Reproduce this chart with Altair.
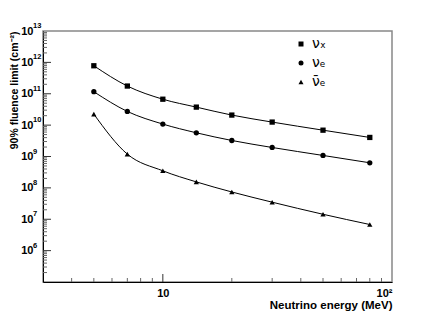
import altair as alt
import pandas as pd

energy = [5, 7, 10, 14, 20, 30, 50, 80]
nux = [7.8e11, 1.76e11, 6.7e10, 3.75e10, 2.09e10, 1.25e10, 6.9e9, 4.05e9]
nue = [1.16e11, 2.73e10, 1.08e10, 5.7e9, 3.24e9, 1.94e9, 1.08e9, 6.3e8]
nuebar = [2.24e10, 1.19e9, 3.5e8, 1.55e8, 7.4e7, 3.5e7, 1.44e7, 6.8e6]
series_names = ["νₓ", "νₑ", "ν̄ₑ"]
series_shapes = ["square", "circle", "triangle-up"]

y_tick_values = [1e6, 1e7, 1e8, 1e9, 1e10, 1e11, 1e12, 1e13]
y_tick_exponents = ["6", "7", "8", "9", "10", "11", "12", "13"]
x_tick_values = [10, 100]
x_tick_labels = ["10", "10²"]

y_major = [1e6, 1e7, 1e8, 1e9, 1e10, 1e11, 1e12]
y_minor = [m * 10 ** k for k in range(5, 13) for m in range(2, 10)]
x_major = [10]
x_minor = [4, 5, 6, 7, 8, 9, 20, 30, 40, 50, 60, 70, 80, 90]

rows = []
for name, vals in zip(series_names, [nux, nue, nuebar]):
    for e, v in zip(energy, vals):
        rows.append({"energy": e, "fluence": v, "series": name})
df = pd.DataFrame(rows)

def label_expr(vals, labels):
    expr = "''"
    for v, l in reversed(list(zip(vals, labels))):
        expr = f"datum.value == {v!r} ? '{l}' : ({expr})"
    return expr

W, H = 349, 251
FONT = "Liberation Sans"

xscale = alt.Scale(type="log", domain=[3, 100], nice=False)
yscale = alt.Scale(type="log", domain=[1e5, 1e13], nice=False)

xaxis = alt.Axis(values=x_tick_values, labelExpr=label_expr(x_tick_values, x_tick_labels),
                 ticks=False, grid=False, domainColor="black", labelFont=FONT,
                 labelFontWeight="bold", labelFontSize=11, labelPadding=5, labelColor="black",
                 title="Neutrino energy (MeV)", titleFont=FONT, titleFontSize=11.5,
                 titleFontWeight="bold", titleAnchor="end", titlePadding=1, titleColor="black",
                 labelAlign=alt.ExprRef("datum.value >= 100 ? 'right' : 'center'"),
                 labelFlush=False)
yaxis = alt.Axis(values=y_tick_values, labelExpr="'10'",
                 ticks=False, grid=False, domainColor="black", labelFont=FONT,
                 labelFontWeight="bold", labelFontSize=11, labelPadding=10, labelColor="black",
                 title="90% fluence limit (cm⁻²)", titleFont=FONT, titleFontSize=10.5,
                 titleFontWeight="bold", titleAnchor="end", titlePadding=1, titleColor="black",
                 labelFlush=False)

base = alt.Chart(df)
lines = base.mark_line(color="black", strokeWidth=1, interpolate="monotone").encode(
    x=alt.X("energy:Q", scale=xscale, axis=xaxis),
    y=alt.Y("fluence:Q", scale=yscale, axis=yaxis),
    detail="series:N",
)
points = base.mark_point(filled=True, color="black", opacity=1, size=28).encode(
    x=alt.X("energy:Q", scale=xscale, axis=xaxis),
    y=alt.Y("fluence:Q", scale=yscale, axis=yaxis),
    shape=alt.Shape("series:N", scale=alt.Scale(domain=series_names, range=series_shapes),
                    legend=alt.Legend(title=None, orient="none", legendX=251, legendY=6,
                                      labelFont="DejaVu Sans", labelFontSize=14,
                                      labelColor="black", symbolSize=25,
                                      symbolFillColor="black", symbolStrokeColor="black",
                                      rowPadding=5, labelOffset=4)),
)

exps = alt.Chart(pd.DataFrame({"fluence": y_tick_values, "exp": y_tick_exponents})).mark_text(
    align="left", baseline="middle", dy=-5, font=FONT, fontWeight="bold", fontSize=7.5,
    color="black").encode(
    y=alt.Y("fluence:Q", scale=yscale, axis=yaxis), x=alt.value(-10), text="exp:N")

ymaj = alt.Chart(pd.DataFrame({"fluence": y_major})).mark_rule(color="#333", strokeWidth=1).encode(
    y=alt.Y("fluence:Q", scale=yscale, axis=yaxis), x=alt.value(0), x2=alt.value(8))
ymin = alt.Chart(pd.DataFrame({"fluence": y_minor})).mark_rule(color="#666", strokeWidth=1).encode(
    y=alt.Y("fluence:Q", scale=yscale, axis=yaxis), x=alt.value(0), x2=alt.value(4))
xmaj = alt.Chart(pd.DataFrame({"energy": x_major})).mark_rule(color="#333", strokeWidth=1).encode(
    x=alt.X("energy:Q", scale=xscale, axis=xaxis), y=alt.value(H), y2=alt.value(H - 8))
xmin = alt.Chart(pd.DataFrame({"energy": x_minor})).mark_rule(color="#666", strokeWidth=1).encode(
    x=alt.X("energy:Q", scale=xscale, axis=xaxis), y=alt.value(H), y2=alt.value(H - 4))

chart = alt.layer(lines, points, ymin, ymaj, xmin, xmaj, exps).properties(
    width=W, height=H,
    autosize=alt.AutoSizeParams(type="none"),
    padding={"left": 35, "top": 23, "right": 20, "bottom": 30},
    background="white",
).configure_view(stroke="#888", strokeWidth=1.5)

chart.save("out.html", embed_options={"renderer": "svg", "actions": False})
